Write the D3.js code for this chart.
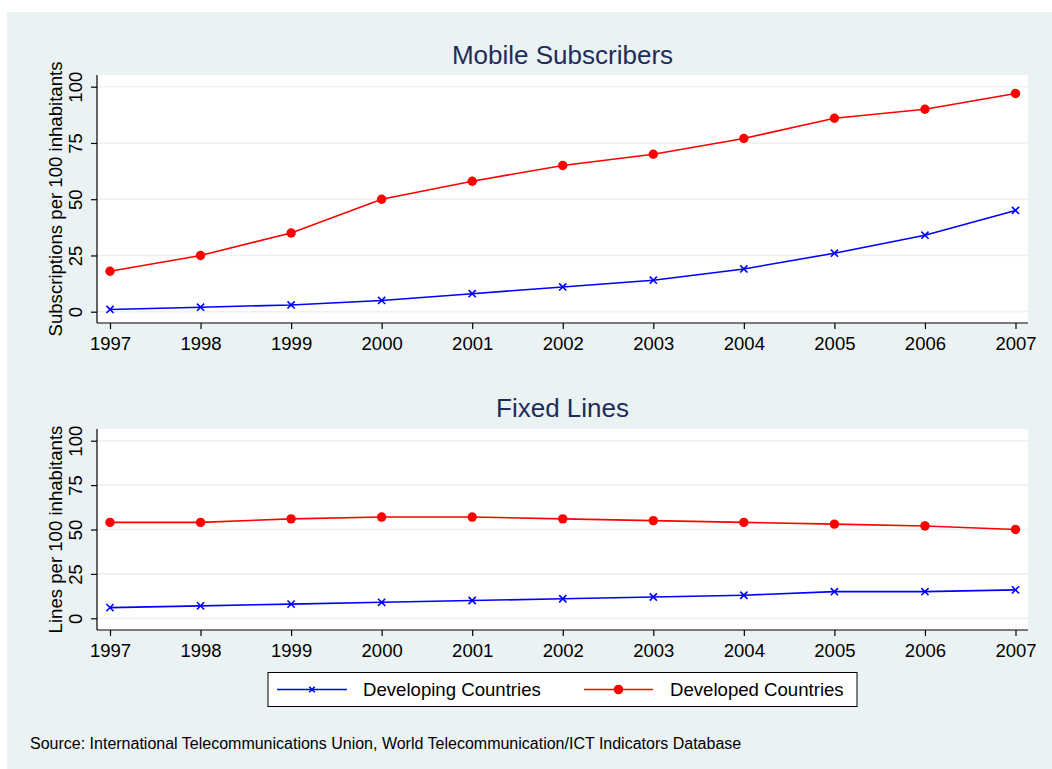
<!DOCTYPE html>
<html><head><meta charset="utf-8">
<script src="https://cdn.jsdelivr.net/npm/d3@7"></script>
<style>body{margin:0;background:#fff;} svg{display:block;font-family:"Liberation Sans",Arial,sans-serif;}</style>
</head><body>
<svg id="c" width="1052" height="769"></svg>
<script>
const years = [1997,1998,1999,2000,2001,2002,2003,2004,2005,2006,2007];
const mobileDeveloping = [1,2,3,5,8,11,14,19,26,34,45];
const mobileDeveloped = [18,25,35,50,58,65,70,77,86,90,97];
const fixedDeveloping = [6,7,8,9,10,11,12,13,15,15,16];
const fixedDeveloped = [54,54,56,57,57,56,55,54,53,52,50];
const yTicks = [0,25,50,75,100];
const seriesNames = ["Developing Countries","Developed Countries"];
const panelTitles = ["Mobile Subscribers","Fixed Lines"];
const yTitles = ["Subscriptions per 100 inhabitants","Lines per 100 inhabitants"];
const sourceText = "Source: International Telecommunications Union, World Telecommunication/ICT Indicators Database";

const BG = "#eaf2f3", TITLE = "#1e2c5a", BLUE = "#0000ff", RED = "#ff0000";
const svg = d3.select("#c");
svg.append("rect").attr("x",7).attr("y",12).attr("width",1045).attr("height",757).attr("fill",BG);

const x = d3.scaleLinear().domain([1997,2007]).range([110,1015.5]);

const panels = [
  {top:75,bottom:323,y0:311.7,y100:86.7,dev:mobileDeveloping,dvd:mobileDeveloped,title:panelTitles[0],ytitle:yTitles[0],titleY:63.5},
  {top:429,bottom:630,y0:618.3,y100:440.7,dev:fixedDeveloping,dvd:fixedDeveloped,title:panelTitles[1],ytitle:yTitles[1],titleY:417}
];
const L = 97, R = 1028;

function xMarker(g, cx, cy, s){
  g.append("path").attr("d",`M${cx-s},${cy-s}L${cx+s},${cy+s}M${cx-s},${cy+s}L${cx+s},${cy-s}`)
   .attr("stroke",BLUE).attr("stroke-width",1.6).attr("fill","none");
}

panels.forEach(p=>{
  const y = d3.scaleLinear().domain([0,100]).range([p.y0,p.y100]);
  const g = svg.append("g");
  g.append("rect").attr("x",L).attr("y",p.top).attr("width",R-L).attr("height",p.bottom-p.top).attr("fill","#fff");
  g.selectAll("line.grid").data(yTicks).join("line").attr("class","grid")
    .attr("x1",L).attr("x2",R).attr("y1",d=>y(d)).attr("y2",d=>y(d))
    .attr("stroke",BG).attr("stroke-width",1.6);
  svg.append("text").attr("x",(L+R)/2).attr("y",p.titleY).attr("text-anchor","middle")
    .attr("font-size",26).attr("fill",TITLE).text(p.title);
  g.append("line").attr("x1",L).attr("x2",L).attr("y1",p.top).attr("y2",p.bottom).attr("stroke","#000").attr("stroke-width",1.2);
  g.append("line").attr("x1",L).attr("x2",R).attr("y1",p.bottom).attr("y2",p.bottom).attr("stroke","#000").attr("stroke-width",1.2);
  const xa = g.append("g").attr("transform",`translate(0,${p.bottom})`)
    .call(d3.axisBottom(x).tickValues(years).tickFormat(d3.format("d")).tickSize(6).tickPadding(8).tickSizeOuter(0));
  xa.select(".domain").remove();
  xa.selectAll("line").attr("stroke","#000").attr("stroke-width",1.2);
  xa.selectAll("text").attr("font-size",18.5).attr("fill","#000").attr("font-family","Liberation Sans,Arial,sans-serif");
  const ya = g.append("g").attr("transform",`translate(${L},0)`)
    .call(d3.axisLeft(y).tickValues(yTicks).tickSize(6).tickSizeOuter(0));
  ya.select(".domain").remove();
  ya.selectAll("line").attr("stroke","#000").attr("stroke-width",1.2);
  ya.selectAll("text").attr("font-size",18.5).attr("fill","#000").attr("font-family","Liberation Sans,Arial,sans-serif")
    .attr("transform","rotate(-90)").attr("x",0).attr("y",-15).attr("dy",0).attr("text-anchor","middle");
  svg.append("text").attr("transform",`translate(61.5,${(p.top+p.bottom)/2}) rotate(-90)`)
    .attr("text-anchor","middle").attr("font-size",18.6).attr("fill","#000").text(p.ytitle);
  const line = d3.line().x((d,i)=>x(years[i])).y(d=>y(d));
  g.append("path").datum(p.dvd).attr("d",line).attr("fill","none").attr("stroke",RED).attr("stroke-width",1.6);
  g.append("path").datum(p.dev).attr("d",line).attr("fill","none").attr("stroke",BLUE).attr("stroke-width",1.6);
  g.selectAll("circle.dvd").data(p.dvd).join("circle").attr("class","dvd")
    .attr("cx",(d,i)=>x(years[i])).attr("cy",d=>y(d)).attr("r",4.7).attr("fill",RED);
  p.dev.forEach((d,i)=>xMarker(g,x(years[i]),y(d),3.6));
});

const lg = svg.append("g");
lg.append("rect").attr("x",268).attr("y",672.5).attr("width",589).attr("height",34).attr("fill","#fff").attr("stroke","#000").attr("stroke-width",1);
lg.append("line").attr("x1",277).attr("x2",347).attr("y1",689.5).attr("y2",689.5).attr("stroke",BLUE).attr("stroke-width",1.6);
xMarker(lg,312,689.5,2.8);
lg.append("text").attr("x",363).attr("y",696).attr("font-size",18.6).text(seriesNames[0]);
lg.append("line").attr("x1",584).attr("x2",653).attr("y1",689.5).attr("y2",689.5).attr("stroke",RED).attr("stroke-width",1.6);
lg.append("circle").attr("cx",618.5).attr("cy",689.5).attr("r",4.8).attr("fill",RED);
lg.append("text").attr("x",670).attr("y",696).attr("font-size",18.6).text(seriesNames[1]);

svg.append("text").attr("x",30).attr("y",748.5).attr("font-size",16).attr("fill","#000").text(sourceText);
</script>
</body></html>
